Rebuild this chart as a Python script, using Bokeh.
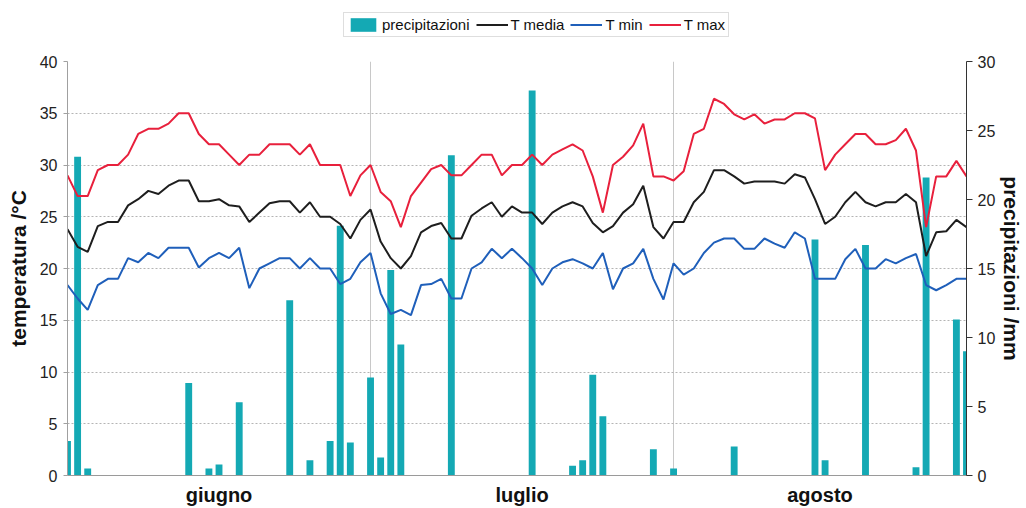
from bokeh.plotting import figure
from bokeh.layouts import column
from bokeh.models import Range1d, LinearAxis, FixedTicker, Legend, LegendItem
from bokeh.embed import file_html
from bokeh.resources import INLINE

# Daily series, 90 days (June to August)
t_max = [29, 27, 27, 29.5, 30, 30, 31, 33, 33.5, 33.5, 34, 35, 35, 33, 32, 32, 31, 30, 31,
         31, 32, 32, 32, 31, 32, 30, 30, 30, 27, 29, 30, 27.4, 26.5, 24, 27, 28.3, 29.6,
         30, 29, 29, 30, 31, 31, 29, 30, 30, 31, 30, 31, 31.5, 32, 31.4, 28.9, 25.4, 30,
         30.8, 31.9, 34, 28.9, 28.9, 28.5, 29.4, 33, 33.5, 36.4, 35.9, 34.9, 34.4, 34.9, 34, 34.4, 34.4, 35,
         35, 34.5, 29.5, 31, 32, 33, 33, 32, 32, 32.4, 33.5, 31.4, 24, 28.9, 28.9, 30.4, 28.9]

t_media = [23.8, 22.1, 21.6, 24.1, 24.5, 24.5, 26.1, 26.7, 27.5, 27.2, 28, 28.5, 28.5, 26.5, 26.5, 26.7, 26.1, 26, 24.5,
           25.4, 26.3, 26.5, 26.5, 25.4, 26.4, 25, 25, 24.3, 22.9, 24.7, 25.7, 22.6, 21, 20, 21.2, 23.5, 24.1,
           24.4, 22.9, 22.9, 25.1, 25.8, 26.4, 25, 26, 25.4, 25.4, 24.3, 25.4, 26, 26.4, 26, 24.4, 23.5, 24.1,
           25.4, 26.2, 28, 24, 22.9, 24.5, 24.5, 26.4, 27.4, 29.5, 29.5, 28.9, 28.2, 28.4, 28.4, 28.4, 28.2, 29.1,
           28.8, 26.7, 24.3, 25, 26.4, 27.4, 26.4, 26, 26.4, 26.4, 27.2, 26.4, 21.2, 23.5, 23.6, 24.7, 24]

t_min = [18.4, 17.1, 16, 18.4, 19, 19, 21, 20.6, 21.5, 21, 22, 22, 22, 20.1, 21, 21.5, 21, 22, 18.1,
         20, 20.5, 21, 21, 20, 21, 20, 20, 18.5, 19, 20.6, 21.5, 17.6, 15.6, 16, 15.5, 18.4, 18.5,
         19, 17.1, 17.1, 20, 20.6, 21.9, 21, 21.9, 21, 20, 18.4, 20, 20.6, 20.9, 20.5, 20, 21.5, 18,
         20, 20.5, 21.9, 19, 17, 20.5, 19.4, 20, 21.5, 22.5, 22.9, 22.9, 21.9, 21.9, 22.9, 22.4, 22, 23.5,
         22.9, 19, 19, 19, 20.9, 21.9, 20, 20, 20.9, 20.5, 21, 21.4, 18.4, 17.9, 18.4, 19, 19]

precipitazioni = [2.5, 23.1, 0.5, 0, 0, 0, 0, 0, 0, 0,
                  0, 0, 6.7, 0, 0.5, 0.8, 0, 5.3, 0, 0,
                  0, 0, 12.7, 0, 1.1, 0, 2.5, 18.1, 2.4, 0,
                  7.1, 1.3, 14.9, 9.5, 0, 0, 0, 0, 23.2, 0,
                  0, 0, 0, 0, 0, 0, 27.9, 0, 0, 0,
                  0.7, 1.1, 7.3, 4.3, 0, 0, 0, 0, 1.9, 0,
                  0.5, 0, 0, 0, 0, 0, 2.1, 0, 0, 0,
                  0, 0, 0, 0, 17.1, 1.1, 0, 0, 0, 16.7,
                  0, 0, 0, 0, 0.6, 21.6, 0, 0, 11.3, 9.0]

months = ["giugno", "luglio", "agosto"]
month_starts = [0, 30, 60]

temp_ticks = [0, 5, 10, 15, 20, 25, 30, 35, 40]
rain_ticks = [0, 5, 10, 15, 20, 25, 30]

series_names = ["precipitazioni", "T media", "T min", "T max"]

days = list(range(len(t_max)))
last_day = days[-1]

FONT = "Liberation Sans"
TEAL = "#14A9B4"
RED = "#E8203C"
BLUE = "#1F5FBA"
BLACK = "#1E1E1E"


def draw_series(fig, rain_range=None, visible=True):
    kw = {"y_range_name": rain_range} if rain_range else {}
    bars = fig.vbar(x=days, top=precipitazioni, width=0.68, fill_color=TEAL, line_color=None,
                    visible=visible, **kw)
    r_med = fig.line(days, t_media, line_color=BLACK, line_width=2, visible=visible)
    r_min = fig.line(days, t_min, line_color=BLUE, line_width=2, visible=visible)
    r_max = fig.line(days, t_max, line_color=RED, line_width=2, visible=visible)
    return [bars, r_med, r_min, r_max]


# ---- main chart ----
p = figure(width=1026, height=463, output_backend="svg", toolbar_location=None,
           x_range=Range1d(0, last_day), y_range=Range1d(0, 40),
           min_border_left=67, min_border_right=56, min_border_top=16, min_border_bottom=24)
p.extra_y_ranges = {"rain": Range1d(0, 30)}
p.outline_line_color = None

draw_series(p, rain_range="rain")

# month labels centred on each block of days
bounds = month_starts + [last_day]
centers = [(bounds[i] + bounds[i + 1]) / 2 for i in range(len(months))]
xax = p.xaxis[0]
xax.ticker = FixedTicker(ticks=centers)
xax.major_label_overrides = {c: m for c, m in zip(centers, months)}
xax.major_label_text_font = FONT
xax.major_label_text_font_style = "bold"
xax.major_label_text_font_size = "20px"
xax.major_label_text_color = "#111111"
xax.major_tick_line_color = None
xax.minor_tick_line_color = None
xax.major_label_standoff = 2
xax.axis_line_color = "#9A9A9A"

yax = p.yaxis[0]
yax.ticker = FixedTicker(ticks=temp_ticks)
yax.axis_label = "temperatura /°C"
yax.axis_label_text_font = FONT
yax.axis_label_text_font_style = "bold"
yax.axis_label_text_font_size = "21px"
yax.axis_label_text_color = "#111111"
yax.axis_label_standoff = 7
yax.major_label_text_font = FONT
yax.major_label_text_font_size = "16px"
yax.major_label_text_color = "#222222"
yax.major_label_standoff = 6
yax.major_tick_out = 4
yax.major_tick_in = 0
yax.minor_tick_line_color = None
yax.axis_line_color = "#A0A0A0"
yax.major_tick_line_color = "#A0A0A0"

rax = LinearAxis(y_range_name="rain", ticker=FixedTicker(ticks=rain_ticks),
                 axis_label="precipitazioni /mm")
rax.axis_label_text_font = FONT
rax.axis_label_text_font_style = "bold"
rax.axis_label_text_font_size = "21px"
rax.axis_label_text_color = "#111111"
rax.axis_label_standoff = 2
rax.major_label_text_font = FONT
rax.major_label_text_font_size = "16px"
rax.major_label_text_color = "#222222"
rax.major_label_standoff = 5
rax.major_tick_out = 6
rax.major_tick_in = 0
rax.minor_tick_line_color = None
rax.axis_line_color = "#333333"
rax.major_tick_line_color = "#333333"
p.add_layout(rax, "right")

p.ygrid.ticker = FixedTicker(ticks=temp_ticks)
p.ygrid.grid_line_color = "#B4B4B4"
p.ygrid.grid_line_dash = "2 2"
p.xgrid.ticker = FixedTicker(ticks=month_starts[1:])
p.xgrid.grid_line_color = "#C8C8C8"

# ---- legend strip above the chart (its series are hidden, only the keys show) ----
lg = figure(width=1026, height=45, output_backend="svg", toolbar_location=None,
            x_axis_type=None, y_axis_type=None, min_border=0,
            x_range=Range1d(0, last_day), y_range=Range1d(0, 40))
lg.extra_y_ranges = {"rain": Range1d(0, 30)}
lg.outline_line_color = None
lg.grid.visible = False
keys = draw_series(lg, rain_range="rain", visible=False)

legend = Legend(items=[LegendItem(label=n, renderers=[r]) for n, r in zip(series_names, keys)],
                orientation="horizontal", location=(276, 8),
                label_text_font=FONT, label_text_font_size="15px", label_text_color="#111111",
                glyph_width=32, glyph_height=17, label_standoff=3, spacing=6,
                padding=3, margin=0, border_line_color="#BDBDBD", background_fill_alpha=1,
                inactive_fill_alpha=0)
lg.add_layout(legend, "center")

layout = column(lg, p, spacing=0)
open("out.html", "w").write(file_html(layout, INLINE))
